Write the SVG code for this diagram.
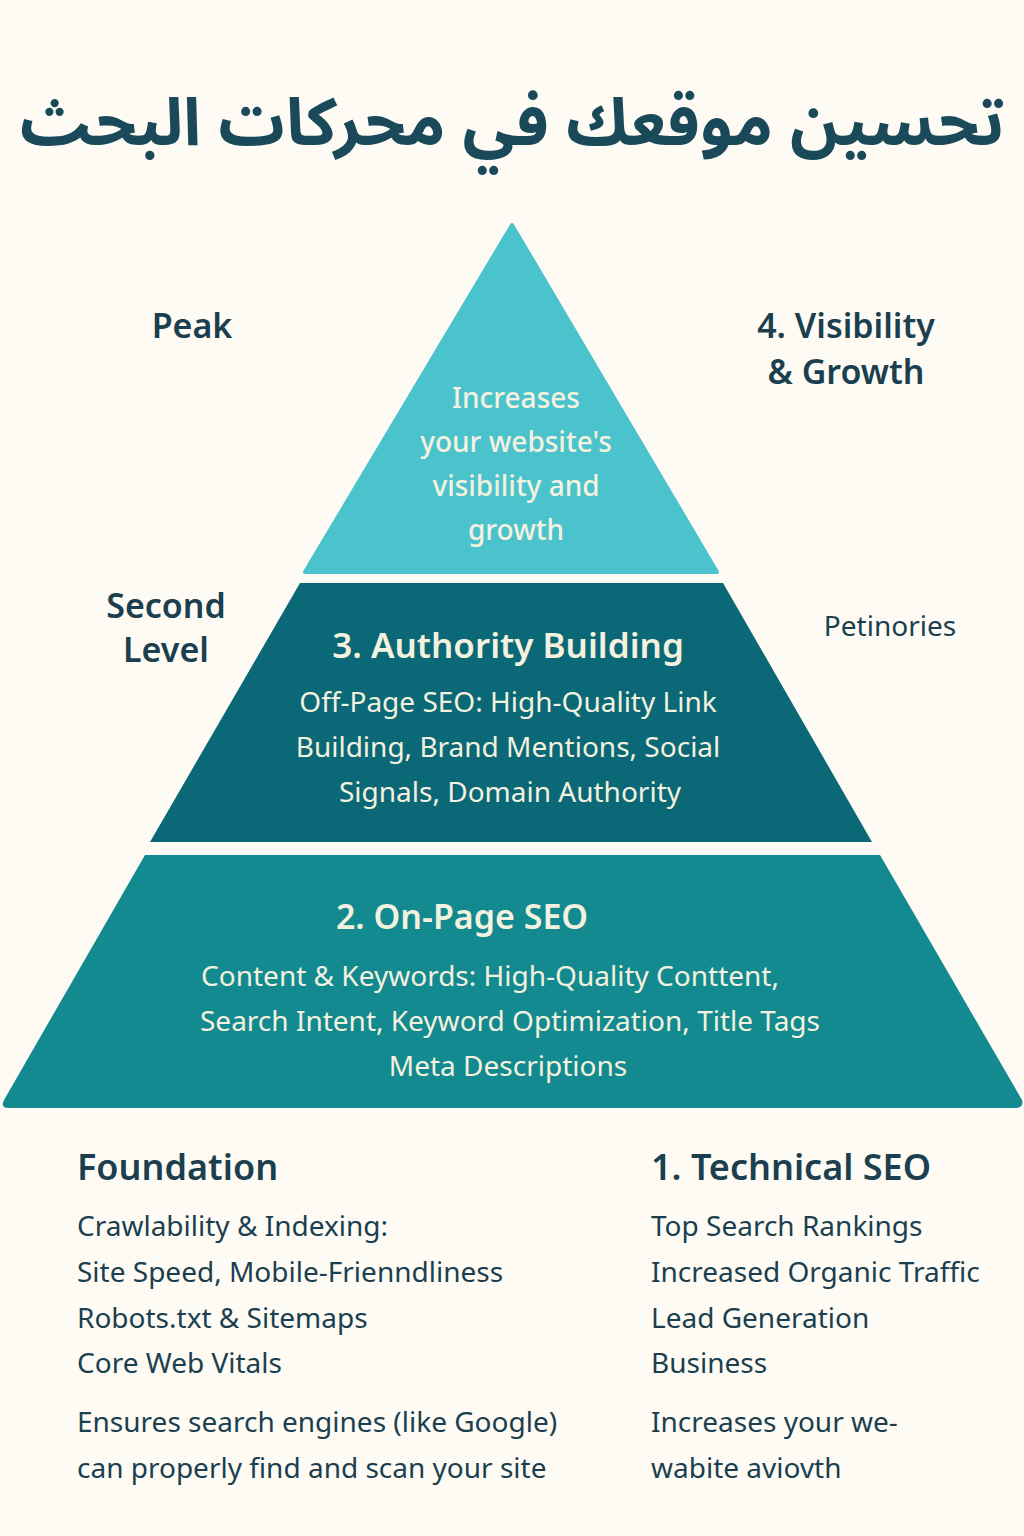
<svg xmlns="http://www.w3.org/2000/svg" width="1024" height="1536" viewBox="0 0 1024 1536">
<style>
.t{font-family:"Noto Sans","Open Sans",sans-serif;}
.side{font-family:"Noto Sans",sans-serif;font-size:34px;font-weight:600;fill:#1b3f4f;text-anchor:middle}
.in{font-family:"Noto Sans",sans-serif;fill:#f4f1df;text-anchor:middle}
.list{font-family:"Noto Sans",sans-serif;font-size:28px;fill:#1b3f4f}
.head{font-family:"Noto Sans",sans-serif;font-size:36px;font-weight:600;fill:#1b3f4f}
</style>
<rect width="1024" height="1536" fill="#fdfbf4"/>
<text x="512" y="145" font-family="'Noto Sans Arabic','Noto Sans','DejaVu Sans',sans-serif" font-size="66" font-weight="700" fill="#1a4a5a" text-anchor="middle" direction="rtl">تحسين موقعك في محركات البحث</text>
<g id="peak">
<path d="M512,225 L717,572 L305,572 Z" fill="#4bc3cd" stroke="#4bc3cd" stroke-width="4" stroke-linejoin="round"/>
<text class="in" font-size="28" font-weight="500"><tspan x="516" y="408">Increases</tspan><tspan x="516" y="452">your website's</tspan><tspan x="516" y="496">visibility and</tspan><tspan x="516" y="540">growth</tspan></text>
</g>
<g id="authority">
<path d="M300,583 L723,583 L872,842 L150,842 Z" fill="#0a6877"/>
<text class="in" x="508" y="658" font-size="35" font-weight="600">3. Authority Building</text>
<text class="in" font-size="28"><tspan x="508" y="712">Off-Page SEO: High-Quality Link</tspan><tspan x="508" y="757">Building, Brand Mentions, Social</tspan><tspan x="510" y="802">Signals, Domain Authority</tspan></text>
</g>
<g id="onpage">
<path d="M145,855 L880,855 L1022,1100 Q1024,1108 1015,1108 L9,1108 Q0,1108 4,1100 Z" fill="#138a90"/>
<text class="in" x="462" y="929" font-size="34" font-weight="600">2. On-Page SEO</text>
<text class="in" font-size="28"><tspan x="490" y="986">Content &amp; Keywords: High-Quality Conttent,</tspan><tspan x="510" y="1031">Search Intent, Keyword Optimization, Title Tags</tspan><tspan x="508" y="1076">Meta Descriptions</tspan></text>
</g>
<g id="labels">
<text class="side" x="192" y="338">Peak</text>
<text class="side"><tspan x="846" y="338">4. Visibility</tspan><tspan x="846" y="384">&amp; Growth</tspan></text>
<text class="side"><tspan x="166" y="618">Second</tspan><tspan x="166" y="662">Level</tspan></text>
<text x="890" y="636" font-family="Noto Sans,sans-serif" font-size="28" fill="#1b3f4f" text-anchor="middle">Petinories</text>
</g>
<g id="foundation">
<text class="head" x="77" y="1180">Foundation</text>
<text class="list"><tspan x="77" y="1236">Crawlability &amp; Indexing:</tspan><tspan x="77" y="1282">Site Speed, Mobile-Frienndliness</tspan><tspan x="77" y="1328">Robots.txt &amp; Sitemaps</tspan><tspan x="77" y="1373">Core Web Vitals</tspan><tspan x="77" y="1432">Ensures search engines (like Google)</tspan><tspan x="77" y="1478">can properly find and scan your site</tspan></text>
</g>
<g id="technical">
<text class="head" x="651" y="1180">1. Technical SEO</text>
<text class="list"><tspan x="651" y="1236">Top Search Rankings</tspan><tspan x="651" y="1282">Increased Organic Traffic</tspan><tspan x="651" y="1328">Lead Generation</tspan><tspan x="651" y="1373">Business</tspan><tspan x="651" y="1432">Increases your we-</tspan><tspan x="651" y="1478">wabite aviovth</tspan></text>
</g>
<g id="connectors"></g>
</svg>
